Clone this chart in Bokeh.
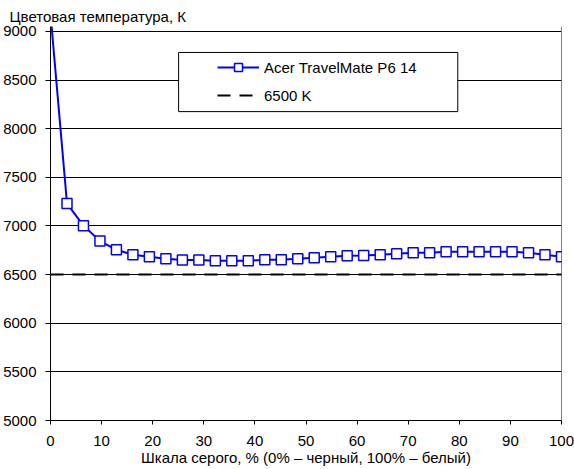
from bokeh.plotting import figure
from bokeh.models import (FixedTicker, Span, BoxAnnotation, Legend, LegendItem,
                          Range1d, Title)
from bokeh.embed import file_html
from bokeh.resources import INLINE

# ---- data ----
gray_pct = [0, 3.23, 6.45, 9.68, 12.90, 16.13, 19.35, 22.58, 25.81, 29.03,
            32.26, 35.48, 38.71, 41.94, 45.16, 48.39, 51.61, 54.84, 58.06,
            61.29, 64.52, 67.74, 70.97, 74.19, 77.42, 80.65, 83.87, 87.10,
            90.32, 93.55, 96.77, 100]
temp_k = [9180, 7230, 7003, 6845, 6755, 6703, 6683, 6662, 6649, 6649,
          6642, 6642, 6642, 6652, 6652, 6662, 6673, 6683, 6693, 6697,
          6704, 6714, 6724, 6724, 6735, 6735, 6735, 6735, 6735, 6724,
          6704, 6683]
ref_x = [0, 100]
ref_y = [6500, 6500]
x_ticks = [0, 10, 20, 30, 40, 50, 60, 70, 80, 90, 100]
y_ticks = [5000, 5500, 6000, 6500, 7000, 7500, 8000, 8500, 9000]
series_name = "Acer TravelMate P6 14"
ref_name = "6500 K"
title_text = "Цветовая температура, К"
x_label = "Шкала серого, % (0% – черный, 100% – белый)"

FONT = "Liberation Sans"
FS = "15px"

p = figure(width=574, height=469, output_backend="svg", toolbar_location=None,
           x_range=Range1d(0, 100), y_range=Range1d(5000, 9050),
           min_border_left=48, min_border_right=13, min_border_top=26,
           min_border_bottom=49)
p.outline_line_color = None
p.background_fill_color = "white"
p.border_fill_color = "white"

t = Title(text=title_text, align="left", vertical_align="top", text_font=FONT,
          text_font_size=FS, text_font_style="normal", text_color="black",
          standoff=0, offset=-41)
p.add_layout(t, "above")

# axes
p.xaxis.ticker = FixedTicker(ticks=x_ticks)
p.yaxis.ticker = FixedTicker(ticks=y_ticks)
for ax in (p.xaxis[0], p.yaxis[0]):
    ax.axis_line_color = "black"
    ax.major_tick_line_color = "black"
    ax.major_tick_in = 0
    ax.minor_tick_line_color = None
    ax.major_label_text_font = FONT
    ax.major_label_text_font_size = FS
    ax.major_label_text_color = "black"
p.xaxis.major_tick_out = 4
p.yaxis.major_tick_out = 5
p.xaxis.major_label_standoff = 11
p.yaxis.major_label_standoff = 9
p.xaxis.axis_label = x_label
p.xaxis.axis_label_text_font = FONT
p.xaxis.axis_label_text_font_size = FS
p.xaxis.axis_label_text_font_style = "normal"
p.xaxis.axis_label_text_color = "black"
p.xaxis.axis_label_standoff = 0

p.xgrid.grid_line_color = None
p.ygrid.grid_line_color = "black"
p.ygrid.grid_line_width = 1

# right border
p.add_layout(Span(location=100, dimension="height", line_color="black", line_width=1))

# data
ref_r = p.line(ref_x, ref_y, line_color="black", line_width=2, line_dash="13 9")
ln = p.line(gray_pct, temp_k, line_color="#0000FF", line_width=2)
mk = p.scatter(gray_pct, temp_k, marker="square", size=10, fill_color="white",
               line_color="#0000FF", line_width=1.5)

# legend box
box = BoxAnnotation(left=25.07, right=79.7, top=8783, bottom=8175,
                    fill_color="white", fill_alpha=1, line_color="black",
                    line_width=1, line_alpha=1)
p.add_layout(box)

legend = Legend(items=[LegendItem(label=series_name, renderers=[ln, mk]),
                       LegendItem(label=ref_name, renderers=[ref_r])],
                location=(167, 315), orientation="vertical",
                glyph_width=42, glyph_height=20, label_height=20,
                label_standoff=5, spacing=8, padding=0, margin=0,
                label_text_font=FONT, label_text_font_size=FS,
                label_text_color="black",
                background_fill_alpha=0, border_line_color=None)
p.add_layout(legend)

open("out.html", "w").write(file_html(p, INLINE))
